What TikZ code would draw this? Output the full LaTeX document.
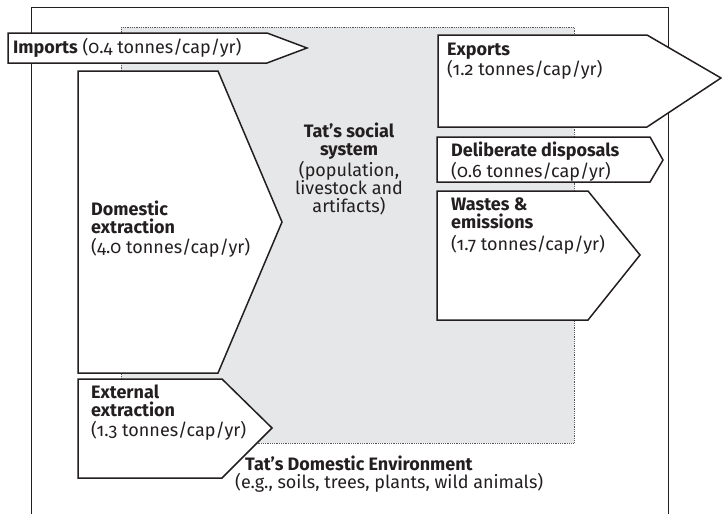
\documentclass[tikz,border=0pt]{standalone}
\usepackage{fontspec}
\setmainfont{Fira Sans}[Numbers=OldStyle]
\usetikzlibrary{positioning}

\definecolor{envgray}{HTML}{E6E7E8}
\definecolor{inkline}{HTML}{231F20}

\tikzset{
	flowarrow/.style={draw=inkline, line width=1.5pt, fill=white, line join=miter},
	flowtext/.style={anchor=north west, inner sep=0pt, align=left, text=inkline, font=\fontsize{18}{18}\selectfont},
}

\begin{document}
\begin{tikzpicture}[x=1pt,y=-1pt]
	\useasboundingbox (0,0) rectangle (722,514);

	% outer frame, open at the bottom
	\draw[inkline, line width=0.8pt] (31,514) -- (31,7) -- (668,7) -- (668,514);

	% the social system
	\draw[fill=envgray, draw=inkline!75, densely dotted, line width=0.8pt] (121,27) rectangle (574,443);

	% flows in
	\draw[flowarrow] (8,33) -- (267,33) -- (307,48) -- (267,63) -- (8,63) -- cycle;
	\draw[flowarrow] (78,71) -- (218,71) -- (282,222) -- (218,373) -- (78,373) -- cycle;
	\draw[flowarrow] (78,379) -- (222,379) -- (272,428) -- (222,478) -- (78,478) -- cycle;

	% flows out
	\draw[flowarrow] (438,35) -- (647,35) -- (721,78) -- (647,127) -- (438,127) -- cycle;
	\draw[flowarrow] (437,137) -- (650,137) -- (663,160) -- (650,182) -- (437,182) -- cycle;
	\draw[flowarrow] (437,191) -- (588,191) -- (640,255) -- (588,320) -- (437,320) -- cycle;

	\node[flowtext] (imports) at (13,38) {\textbf{Imports} (0.4 tonnes/cap/yr)};
	\node[flowtext] (domext) at (91,201) {\textbf{Domestic}\\\textbf{extraction}\\[2pt](4.0 tonnes/cap/yr)};
	\node[flowtext] (extext) at (91,385) {\textbf{External}\\\textbf{extraction}\\[2pt](1.3 tonnes/cap/yr)};
	\node[flowtext] (exports) at (447,43) {\textbf{Exports}\\(1.2 tonnes/cap/yr)};
	\node[flowtext] (disposals) at (451,142) {\textbf{Deliberate disposals}\\(0.6 tonnes/cap/yr)};
	\node[flowtext] (wastes) at (451,198) {\textbf{Wastes \&}\\\textbf{emissions}\\[4pt](1.7 tonnes/cap/yr)};

	\node[flowtext, anchor=north, align=center] (social) at (349,123) {\textbf{Tat’s social}\\\textbf{system}\\(population,\\livestock and\\artifacts)};
	\node[flowtext] (environment) at (235,456) {\hspace*{10pt}\textbf{Tat’s Domestic Environment}\\(e.g., soils, trees, plants, wild animals)};
\end{tikzpicture}
\end{document}
